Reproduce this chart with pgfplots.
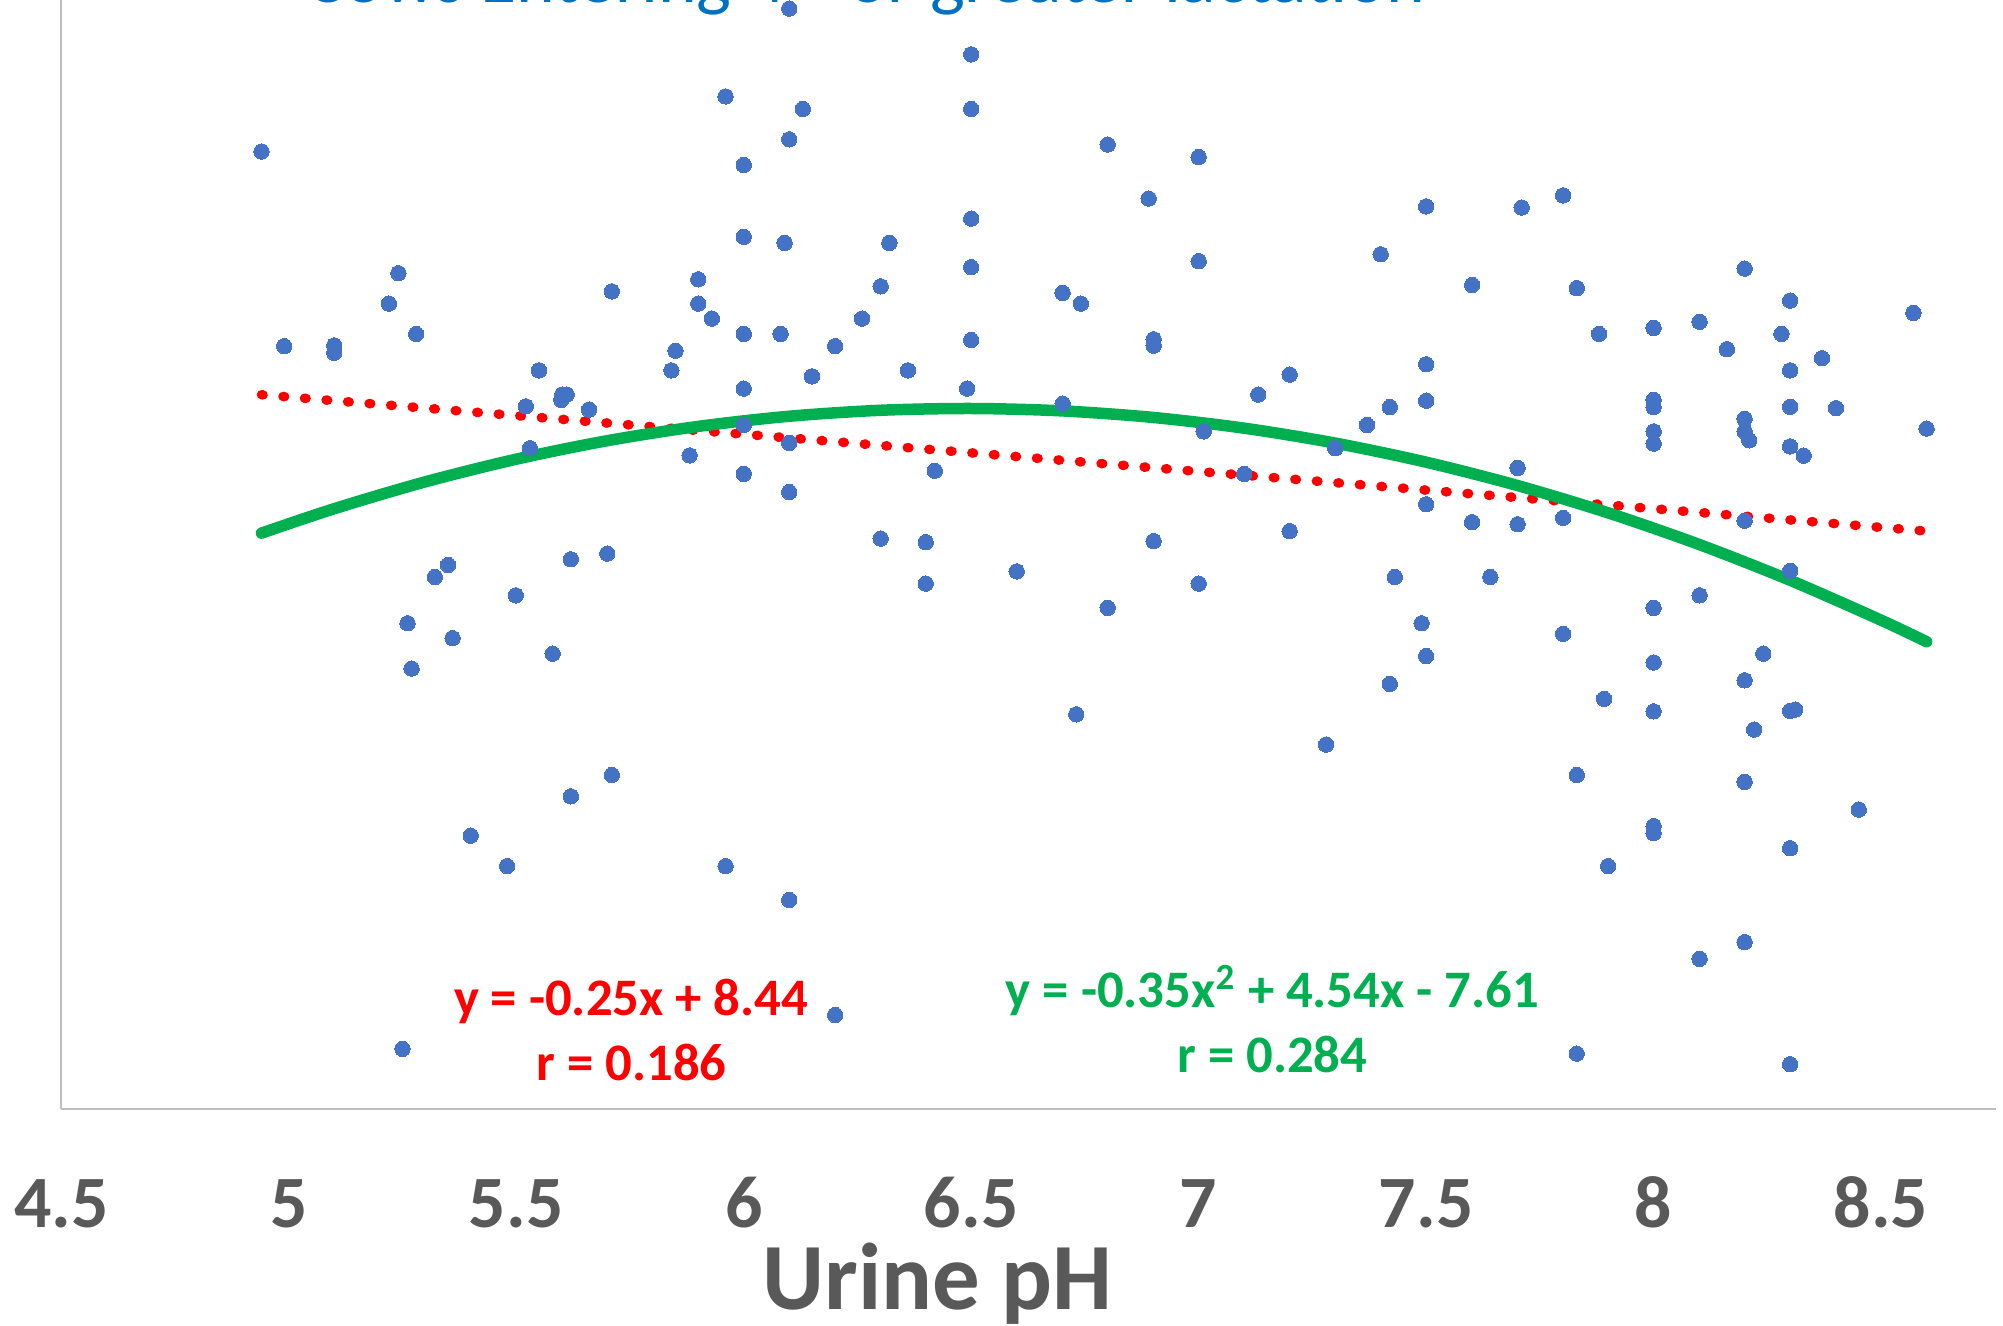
\documentclass[border=0pt]{standalone}
\usepackage{pgfplots}
\pgfplotsset{compat=1.18}
\usepackage{pgfplotstable}
\usepackage{fontspec}
\setmainfont{Carlito}

\definecolor{dotblue}{HTML}{4472C4}
\definecolor{fitgreen}{HTML}{00B050}
\definecolor{fitred}{HTML}{FF0000}
\definecolor{titleblue}{HTML}{0070C0}
\definecolor{labelgray}{HTML}{595959}
\definecolor{axisgray}{HTML}{BFBFBF}

% urine pH (x) against the response (y), one row per cow
\pgfplotstableread{
x y
4.940 8.837
4.990 7.531
5.100 7.536
5.100 7.486
5.241 8.020
5.220 7.816
5.280 7.613
5.710 7.898
5.550 7.368
5.521 7.127
5.599 7.170
5.601 7.206
5.611 7.206
5.660 7.105
5.530 6.846
5.350 6.063
5.321 5.982
5.620 6.101
5.700 6.139
5.499 5.859
5.261 5.672
5.360 5.572
5.270 5.368
5.580 5.468
5.710 4.654
5.620 4.511
5.400 4.247
5.480 4.043
5.250 2.817
6.100 9.795
6.500 9.488
5.960 9.206
6.130 9.122
6.500 9.122
6.100 8.918
6.000 8.746
6.500 8.386
6.000 8.264
6.090 8.223
6.320 8.223
6.500 8.061
5.900 7.979
6.301 7.932
5.900 7.816
5.930 7.716
6.260 7.716
6.701 7.888
6.741 7.816
6.000 7.613
6.081 7.613
6.500 7.572
5.850 7.500
6.201 7.531
5.841 7.368
6.150 7.328
6.361 7.368
6.000 7.246
6.491 7.246
6.701 7.145
6.000 7.002
6.100 6.882
5.881 6.798
6.000 6.674
6.420 6.695
6.100 6.552
6.301 6.240
6.400 6.216
6.400 5.938
6.600 6.020
6.731 5.061
5.960 4.043
6.100 3.816
6.201 3.044
6.800 8.883
7.000 8.799
6.890 8.521
7.500 8.468
7.000 8.101
7.400 8.147
7.601 7.941
6.901 7.577
6.901 7.534
7.500 7.409
7.200 7.340
7.131 7.206
7.420 7.122
7.500 7.165
7.370 7.002
7.011 6.959
7.300 6.846
7.100 6.674
7.500 6.470
7.601 6.350
7.200 6.290
6.901 6.223
6.800 5.775
7.000 5.938
7.431 5.982
7.641 5.982
7.490 5.672
7.500 5.452
7.420 5.265
7.280 4.858
7.801 8.542
7.710 8.461
8.200 8.051
7.831 7.920
8.300 7.836
8.571 7.754
7.880 7.613
8.000 7.653
8.101 7.694
8.281 7.613
8.161 7.510
8.370 7.450
8.300 7.368
8.000 7.170
8.000 7.122
8.300 7.124
8.401 7.115
8.600 6.978
8.200 7.043
8.200 6.959
8.210 6.899
8.000 6.959
8.000 6.877
8.300 6.858
8.330 6.796
7.701 6.714
7.701 6.336
7.801 6.379
8.200 6.360
8.300 6.024
8.101 5.859
8.000 5.775
7.801 5.601
8.241 5.468
8.000 5.409
8.200 5.289
7.891 5.165
8.000 5.081
8.300 5.085
8.311 5.093
8.221 4.959
7.831 4.654
8.200 4.608
8.451 4.422
8.000 4.311
8.000 4.264
8.300 4.163
7.900 4.043
8.200 3.533
8.101 3.421
7.831 2.785
8.300 2.714
}\cowdata

% linear trend: y = -0.25x + 8.44
\pgfplotstableread{
x y
4.94 7.205
8.60 6.290
}\lintrend

% quadratic trend: y = -0.35x^2 + 4.54x - 7.61
\pgfplotstableread{
x y
4.94 6.2763
5.10 6.4405
5.30 6.6205
5.50 6.7725
5.70 6.8965
5.90 6.9925
6.10 7.0605
6.30 7.1005
6.50 7.1125
6.70 7.0965
6.90 7.0525
7.10 6.9805
7.30 6.8805
7.50 6.7525
7.70 6.5965
7.90 6.4125
8.10 6.2005
8.30 5.9605
8.50 5.6925
8.60 5.5480
}\quadtrend

\begin{document}
\begin{tikzpicture}
\useasboundingbox (-6.13mm,-21.67mm) rectangle (194.17mm,110.93mm);
\begin{axis}[
  scale only axis,
  width=193.42mm, height=110.93mm,
  xmin=4.5, xmax=8.7515,
  ymin=2.4117, ymax=9.8527,
  axis lines*=left,
  axis line style={draw=axisgray, line width=0.2mm},
  ytick=\empty,
  xtick={4.5,5,5.5,6,6.5,7,7.5,8,8.5},
  xticklabels={4.5,5,5.5,6,6.5,7,7.5,8,8.5},
  major tick length=0pt,
  /pgf/number format/assume math mode=true,
  xticklabel style={font=\fontsize{21pt}{25pt}\selectfont\bfseries,
    text=labelgray, anchor=base, yshift=-11.87mm, inner sep=0pt},
  xlabel={Urine pH},
  xlabel style={font=\fontsize{27pt}{32pt}\selectfont\bfseries,
    text=labelgray, at={(axis description cs:0.4531,0)}, anchor=base,
    yshift=-20.07mm, inner sep=0pt},
  title={Cows Entering 4\textsuperscript{th} or greater lactation},
  every axis title/.style={font=\fontsize{21pt}{25pt}\selectfont,
    text=titleblue, at={(axis description cs:0.4155,1)}, anchor=base,
    yshift=-0.3mm, inner sep=0pt},
]
\addplot[only marks, mark=*, color=dotblue, mark size=0.77mm,
  mark options={draw=dotblue, fill=dotblue, line width=0pt}] table {\cowdata};
\addplot[fitred, line width=0.95mm, line cap=round,
  dash pattern=on 0.16mm off 2.0mm] table {\lintrend};
\addplot[fitgreen, line width=1.15mm, line cap=round, smooth]
  table {\quadtrend};
\end{axis}
\begin{scope}[every node/.style={inner sep=0pt, anchor=base,
    font=\fontsize{15pt}{18pt}\selectfont\bfseries}]
\node[text=fitred] at (56.97mm,9.37mm) {y = -0.25x + 8.44};
\node[text=fitred] at (57.04mm,2.85mm) {r = 0.186};
\node[text=fitgreen] at (121.11mm,10.13mm) {y = -0.35x\textsuperscript{2} + 4.54x - 7.61};
\node[text=fitgreen] at (121.11mm,3.68mm) {r = 0.284};
\end{scope}
\end{tikzpicture}
\end{document}
